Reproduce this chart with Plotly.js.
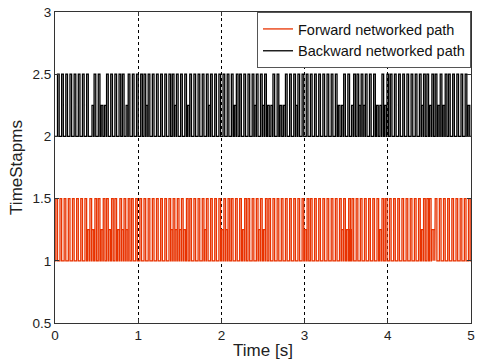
<!DOCTYPE html>
<html>
<head>
<meta charset="utf-8">
<script src="https://cdn.plot.ly/plotly-3.0.1.min.js"></script>
<style>
  html, body { margin: 0; padding: 0; background: #fff; }
  #chart { width: 480px; height: 363px; }
</style>
</head>
<body>
<div id="chart"></div>
<script>
// pulse onset times [s] (forward = red, backward = black)
const fwdFull = [0.01, 0.06, 0.11, 0.16, 0.21, 0.26, 0.31, 0.36, 0.42, 0.48, 0.52, 0.58, 0.62, 0.68, 0.72, 0.78, 0.83, 0.88, 0.92, 0.97,
                 1.02, 1.07, 1.12, 1.17, 1.22, 1.27, 1.32, 1.37, 1.42, 1.47, 1.52, 1.58, 1.62, 1.67, 1.72, 1.77, 1.82, 1.87, 1.92, 1.97,
                 2.03, 2.08, 2.12, 2.17, 2.22, 2.28, 2.32, 2.37, 2.42, 2.47, 2.53, 2.57, 2.62, 2.67, 2.72, 2.77, 2.82, 2.87, 2.92, 2.97,
                 3.03, 3.07, 3.12, 3.17, 3.22, 3.27, 3.32, 3.37, 3.42, 3.47, 3.53, 3.57, 3.62, 3.67, 3.72, 3.77, 3.82, 3.87, 3.93, 3.97,
                 4.02, 4.07, 4.12, 4.17, 4.22, 4.27, 4.32, 4.37, 4.43, 4.47, 4.50, 4.57, 4.62, 4.67, 4.72, 4.77, 4.82, 4.87, 4.92, 4.97];
const fwdHalf = [0.395, 0.445, 0.555, 0.645, 0.755, 0.805, 0.855, 1.395, 1.445, 1.495, 1.545, 1.795, 2.005, 2.055, 2.255,
                 2.445, 2.505, 3.005, 3.445, 3.505, 3.545, 3.905, 4.405, 4.525, 4.545];
const bwdFull = [0.03, 0.08, 0.13, 0.18, 0.23, 0.28, 0.33, 0.38, 0.47, 0.52, 0.62, 0.67, 0.72, 0.77, 0.81, 0.88, 0.93, 0.98,
                 1.03, 1.07, 1.12, 1.17, 1.22, 1.27, 1.32, 1.37, 1.41, 1.46, 1.51, 1.56, 1.62, 1.67, 1.72, 1.77, 1.82, 1.87, 1.92, 1.97,
                 2.02, 2.07, 2.12, 2.18, 2.22, 2.27, 2.32, 2.37, 2.42, 2.47, 2.52, 2.62, 2.67, 2.77, 2.82, 2.87, 2.92, 2.97,
                 3.02, 3.07, 3.12, 3.17, 3.22, 3.27, 3.32, 3.37, 3.47, 3.52, 3.59, 3.63, 3.68, 3.73, 3.78, 3.83, 3.93, 3.99,
                 4.03, 4.08, 4.13, 4.18, 4.23, 4.28, 4.33, 4.38, 4.43, 4.47, 4.53, 4.57, 4.63, 4.69, 4.73, 4.78, 4.83, 4.88, 4.93];
const bwdHalf = [0.445, 0.555, 0.595, 0.855, 1.095, 1.435, 1.595, 1.845, 2.155, 2.395, 2.495, 2.555, 2.595, 2.705, 2.745, 2.895,
                 3.405, 3.445, 3.565, 3.655, 3.705, 3.865, 3.905, 3.965, 4.405, 4.505, 4.605, 4.665, 4.965];
const levels = { fwd: [1, 1.5, 1.25], bwd: [2, 2.5, 2.25] };   // base, full, half
const xTicks = [0, 1, 2, 3, 4, 5];
const yTicks = [0.5, 1, 1.5, 2, 2.5, 3];
const WIDTH = 0.02;   // pulse length [s]

// turn onset lists into a rectangular pulse train
function pulses(full, half, lv) {
  const ev = full.map(t => [t, lv[1]]).concat(half.map(t => [t, lv[2]]));
  ev.sort((a, b) => a[0] - b[0]);
  const x = [0], y = [lv[0]];
  ev.forEach(function (e) {
    x.push(e[0], e[0], e[0] + WIDTH, e[0] + WIDTH);
    y.push(lv[0], e[1], e[1], lv[0]);
  });
  x.push(5); y.push(lv[0]);
  return { x: x, y: y };
}

const f = pulses(fwdFull, fwdHalf, levels.fwd);
const b = pulses(bwdFull, bwdHalf, levels.bwd);

const traces = [
  { x: f.x, y: f.y, mode: "lines", name: "Forward networked path",
    line: { color: "#e83200", width: 1.3 } },
  { x: b.x, y: b.y, mode: "lines", name: "Backward networked path",
    line: { color: "#000", width: 1.3 } }
];

const axisBase = {
  showline: true, mirror: "ticks", linecolor: "#333", linewidth: 1,
  ticks: "inside", ticklen: 4, tickcolor: "#333", zeroline: false,
  tickfont: { family: "Liberation Sans, Arial, sans-serif", size: 13.5, color: "#222" }
};

Plotly.newPlot("chart", traces, {
  width: 480, height: 363,
  margin: { l: 55, r: 9, t: 12, b: 40 },
  paper_bgcolor: "#fff", plot_bgcolor: "#fff",
  font: { family: "Liberation Sans, Arial, sans-serif", color: "#222" },
  xaxis: Object.assign({}, axisBase, {
    range: [0, 5], tickvals: xTicks, ticktext: xTicks.map(String),
    showgrid: true, gridcolor: "#000", griddash: "dot", gridwidth: 1,
    title: { text: "Time [s]", font: { size: 17 }, standoff: 1 }
  }),
  yaxis: Object.assign({}, axisBase, {
    range: [0.5, 3], tickvals: yTicks, ticktext: yTicks.map(String),
    showgrid: false,
    title: { text: "TimeStapms", font: { size: 17 }, standoff: 5 }
  }),
  legend: {
    x: 1, y: 1, xanchor: "right", yanchor: "top",
    bgcolor: "#fff", bordercolor: "#555", borderwidth: 1,
    font: { size: 14.5, color: "#111" }, tracegroupgap: 0,
    itemwidth: 30
  },
  showlegend: true
}, { displayModeBar: false, staticPlot: true });
</script>
</body>
</html>
